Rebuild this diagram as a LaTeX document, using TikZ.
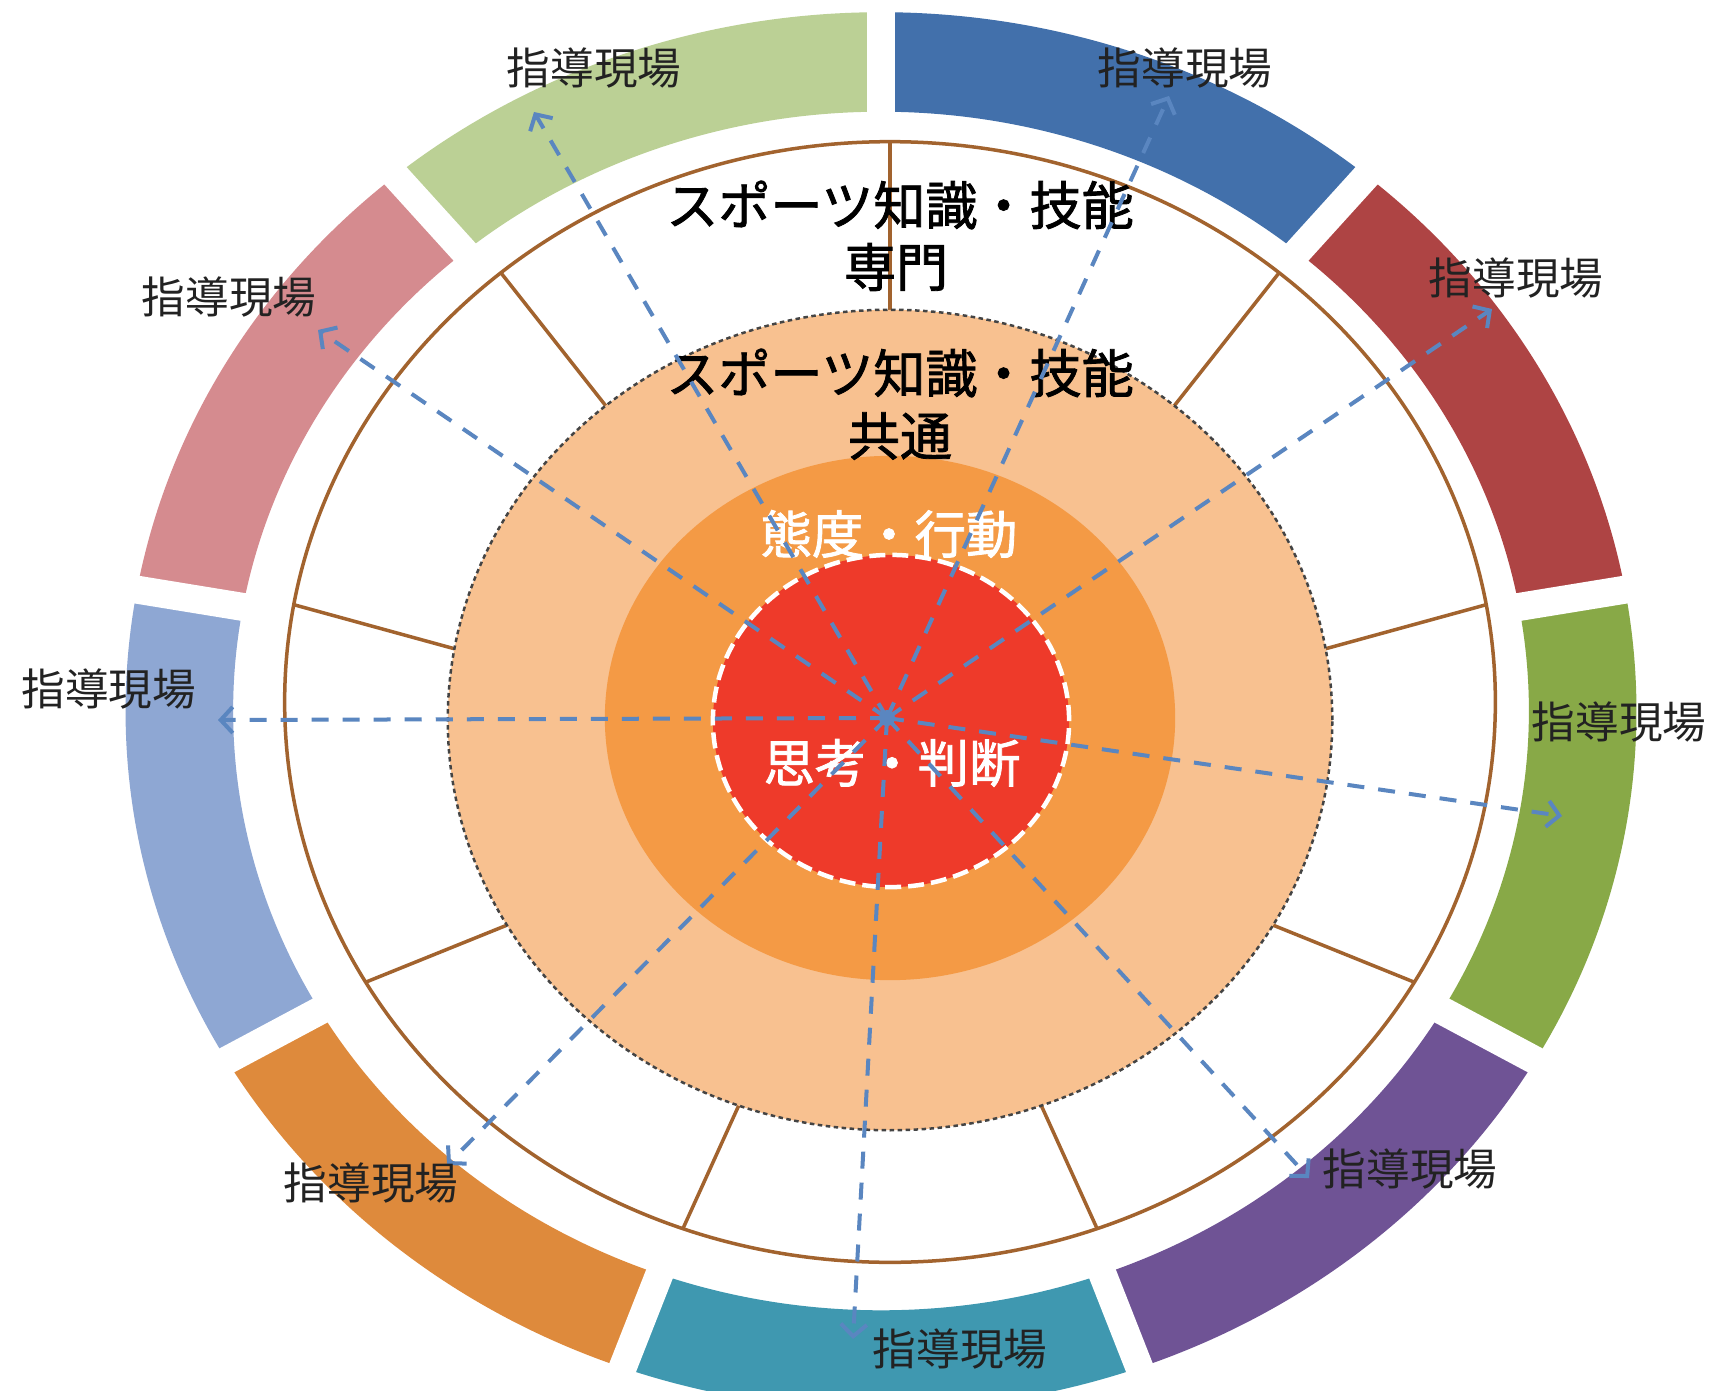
\documentclass[tikz,border=0pt]{standalone}
\usepackage{fontspec}
\newfontfamily\jp{Noto Sans CJK JP}
\newfontfamily\jpm[FakeBold=1.6]{Noto Sans CJK JP}
\usetikzlibrary{arrows.meta,calc}
\definecolor{seglgreen}{HTML}{BBD095}
\definecolor{segblue}{HTML}{4270AB}
\definecolor{segred}{HTML}{AE4444}
\definecolor{seggreen}{HTML}{88A947}
\definecolor{segpurple}{HTML}{6F5395}
\definecolor{segteal}{HTML}{3F98B0}
\definecolor{segorange}{HTML}{DE8A3C}
\definecolor{segperi}{HTML}{8EA7D3}
\definecolor{segpink}{HTML}{D58B8F}
\definecolor{brownc}{HTML}{A2632E}
\definecolor{peach}{HTML}{F8C190}
\definecolor{midorange}{HTML}{F49A45}
\definecolor{redc}{HTML}{EE3A2A}
\definecolor{arrowblue}{HTML}{5A86C0}
\definecolor{dotgray}{HTML}{444444}
\definecolor{labelgray}{HTML}{222222}
\begin{document}
\begin{tikzpicture}[x=0.01cm,y=0.01cm,
  lbl/.style={font=\jp\fontsize{12.4}{14}\selectfont, text=labelgray, inner sep=0},
  maintext/.style={font=\jpm\fontsize{14.8}{17}\selectfont, text=black, inner sep=0},
  whitetext/.style={font=\jpm\fontsize{14.6}{17}\selectfont, text=white, inner sep=0},
  arr/.style={draw=arrowblue, line width=0.04cm, dash pattern=on 0.17cm off 0.14cm,
              -{Straight Barb[length=0.12cm,width=0.26cm]}}]
\useasboundingbox (0,0) rectangle (1710,1390);
\fill[white] (0,0) rectangle (1710,1390);

% outer coloured ring (9 segments)
\begin{scope}[shift={(881,679)}, yscale=0.925]
  \foreach \a/\c in {90/segblue, 50/segred, 10/seggreen, -30/segpurple, -70/segteal,
                     -110/segorange, -150/segperi, -190/segpink, -230/seglgreen}{
    \fill[\c] (\a:7.55cm) arc[start angle=\a, end angle=\a-40, radius=7.55cm]
      -- (\a-40:6.475cm) arc[start angle=\a-40, end angle=\a, radius=6.475cm] -- cycle;
  }
  \foreach \a in {90,50,10,-30,-70,-110,-150,-190,-230}{
    \draw[white, line width=0.28cm] (\a:6.2cm) -- (\a:7.9cm);
  }
\end{scope}

% white ring with brown outline
\filldraw[fill=white, draw=brownc, line width=0.035cm] (890,688) ellipse [x radius=6.05cm, y radius=5.60cm];
\foreach \a in {90,50,10,-30,-70,-110,-150,-190,-230}{
  \draw[brownc, line width=0.035cm] ($(890,670)+(\a:4.42cm and 4.10cm)$) -- ($(890,688)+(\a:6.05cm and 5.60cm)$);
}

% peach common circle
\filldraw[fill=peach, draw=dotgray, line width=0.025cm, dash pattern=on 0.045cm off 0.035cm]
  (890,670) ellipse [x radius=4.42cm, y radius=4.10cm];
% orange circle
\fill[midorange] (890,672) ellipse [x radius=2.85cm, y radius=2.62cm];
% red core
\filldraw[fill=redc, draw=white, line width=0.045cm, dash pattern=on 0.16cm off 0.07cm]
  (891,669) ellipse [x radius=1.78cm, y radius=1.66cm];

% texts
\node[maintext] (s1) at (900,1185) {スポーツ知識・技能};
\node[maintext] (s2) at (896,1123) {専門};
\node[maintext] (c1) at (900,1017) {スポーツ知識・技能};
\node[maintext] (c2) at (900,954) {共通};
\node[whitetext] (t1) at (889,856) {態度・行動};
\node[whitetext] (t2) at (892,627) {思考・判断};

% arrows
\coordinate (hub) at (887,672);
\coordinate (e1) at (534,1278);
\coordinate (e2) at (1169,1294);
\coordinate (e3) at (1492,1081);
\coordinate (e4) at (1562,574);
\coordinate (e5) at (1309,212);
\coordinate (e6) at (853,51);
\coordinate (e7) at (447,225);
\coordinate (e8) at (218,670);
\coordinate (e9) at (318,1060);
\foreach \e in {e1,e2,e3,e4,e5,e6,e7,e8,e9}{
  \draw[arr] (hub) -- (\e);
}
\fill[arrowblue] (hub) circle [radius=0.08cm];

% labels
\node[lbl] (L1) at (594,1322) {指導現場};
\node[lbl] (L2) at (1185,1322) {指導現場};
\node[lbl] (L3) at (1516,1112) {指導現場};
\node[lbl] (L4) at (1619,668) {指導現場};
\node[lbl] (L5) at (1410,221) {指導現場};
\node[lbl] (L6) at (960,41) {指導現場};
\node[lbl] (L7) at (371,207) {指導現場};
\node[lbl] (L8) at (109,701) {指導現場};
\node[lbl] (L9) at (229,1093) {指導現場};
\end{tikzpicture}
\end{document}
